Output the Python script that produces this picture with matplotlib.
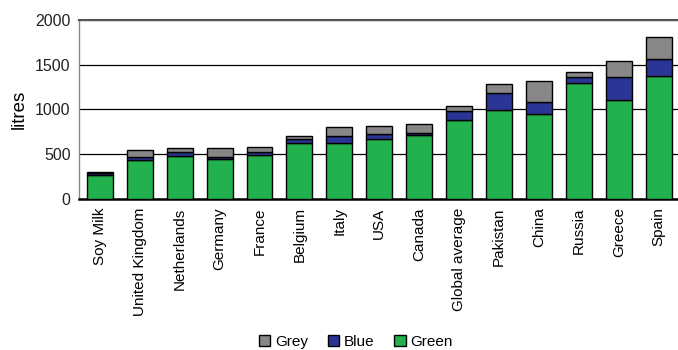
import numpy as np
import matplotlib.pyplot as plt

plt.rcParams['font.family'] = ['Liberation Sans', 'DejaVu Sans']

# water footprint per litre, split into green / blue / grey water
countries = ['Soy Milk', 'United Kingdom', 'Netherlands', 'Germany', 'France',
             'Belgium', 'Italy', 'USA', 'Canada', 'Global average',
             'Pakistan', 'China', 'Russia', 'Greece', 'Spain']
green = [265, 440, 480, 443, 490, 622, 622, 670, 715, 882, 994, 946, 1299, 1106, 1374]
blue = [30, 30, 48, 30, 38, 45, 85, 52, 18, 100, 186, 141, 67, 253, 190]
grey = [10, 77, 38, 93, 56, 40, 100, 97, 100, 60, 100, 231, 49, 179, 246]

c_green = '#22b14c'
c_blue = '#2b3595'
c_grey = '#878787'

fig = plt.figure(figsize=(6.78, 3.5), dpi=100)
ax = fig.add_axes([0.1165, 0.4314, 0.8835, 0.5116])

x = np.arange(len(countries))
g = np.array(green)
b = np.array(blue)
r = np.array(grey)
w = 0.65
kw = dict(width=w, edgecolor='black', linewidth=1.0, zorder=3)
bg = ax.bar(x, g, color=c_green, label='Green', **kw)
bb = ax.bar(x, b, bottom=g, color=c_blue, label='Blue', **kw)
br = ax.bar(x, r, bottom=g + b, color=c_grey, label='Grey', **kw)

ax.set_xlim(-0.52, 14.48)
ax.set_ylim(0, 2000)
ax.set_yticks([0, 500, 1000, 1500, 2000])
ax.yaxis.grid(True, color='black', linewidth=0.9, zorder=0)
ax.set_axisbelow(True)

ax.set_xticks(x)
ax.set_xticklabels(countries, rotation=90, fontsize=11)
ax.tick_params(axis='both', length=0, labelsize=11.5)
ax.tick_params(axis='x', pad=6, labelsize=11)
ax.tick_params(axis='y', pad=6, colors='#222222')
ax.set_ylabel('litres', fontsize=13.5, labelpad=5)

ax.spines['right'].set_visible(False)
ax.spines['top'].set_color('#555555')
ax.spines['top'].set_linewidth(1.5)
ax.spines['left'].set_color('#888888')
ax.spines['left'].set_linewidth(1.0)
ax.spines['bottom'].set_color('black')
ax.spines['bottom'].set_linewidth(1.8)

fig.legend(handles=[br, bb, bg], labels=['Grey', 'Blue', 'Green'],
           loc='center', bbox_to_anchor=(0.525, 0.023), ncol=3,
           frameon=False, fontsize=11, handlelength=0.75, handleheight=0.75,
           handletextpad=0.3, columnspacing=1.3, borderaxespad=0)

fig.savefig('out.png', dpi=100)
